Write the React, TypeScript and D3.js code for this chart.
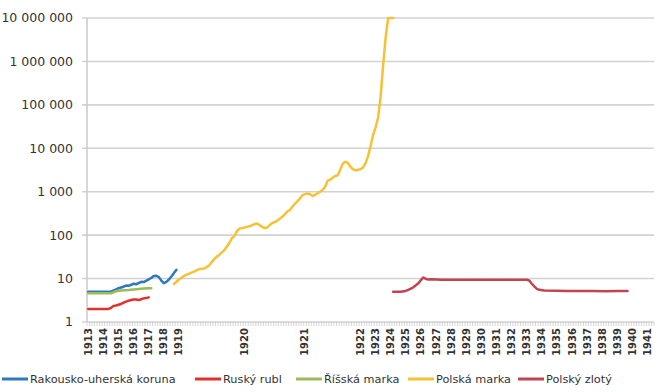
import React from "react";
import * as d3 from "d3";

// ---------- data ----------
const years = [
  "1913","1914","1915","1916","1917","1918","1919","1920","1921","1922","1923","1924","1925","1926","1927",
  "1928","1929","1930","1931","1932","1933","1934","1935","1936","1937","1938","1939","1940","1941",
];
// number of category slots belonging to each year on the category axis
const categoriesPerYear = [6,6,6,6,6,6,26,24,22,6,6,6,6,6,6,6,6,6,6,6,6,6,6,6,6,6,6,6,3];

const yTicks = [1, 10, 100, 1000, 10000, 100000, 1000000, 10000000];

// [category index, value]
const korunaData: [number, number][] = [
  [0,5],[9,5],[11,5.6],[12,6],[14,6.5],[15,6.9],[16,6.8],[18,7.6],[19,7.4],[21,8.4],[22,8.3],[24,9.6],
  [25,10.3],[26,11.5],[27,11.6],[28,10.8],[29,9],[30,7.8],[31,8.4],[32,9.5],[33,11.2],[34,13.5],[35,16],
];
const rublData: [number, number][] = [
  [0,2],[8,2],[9,2.1],[10,2.35],[11,2.4],[13,2.6],[14,2.8],[15,2.95],[16,3.1],[17,3.2],[18,3.3],[19,3.3],
  [20,3.2],[21,3.35],[22,3.5],[23,3.55],[24,3.7],
];
const markaData: [number, number][] = [
  [0,4.6],[9,4.6],[11,5.1],[13,5.3],[16,5.45],[18,5.6],[20,5.75],[22,5.9],[24,6.0],[25,6.0],
];
const polskaMarkaData: [number, number][] = [
  [34,7.5],[36,9.5],[38,11.5],[40,13],[42,14.5],[44,16.5],[46,17],[48,20],[49,24],[50,28],[51,32],[52,35],
  [53,40],[54,45],[55,55],[56,66],[57,85],[58,95],[59,125],[60,140],[61,145],[62,150],[63,155],[64,160],
  [65,170],[66,180],[67,185],[68,170],[69,155],[70,145],[71,150],[72,170],[73,190],[74,200],[75,215],
  [76,240],[77,265],[78,300],[79,350],[80,380],[81,450],[82,530],[83,600],[84,700],[85,830],[86,880],
  [87,910],[88,880],[89,800],[90,840],[91,920],[92,1000],[93,1100],[94,1300],[95,1800],[96,1900],
  [97,2100],[98,2300],[99,2400],[100,3200],[101,4400],[102,4900],[103,4600],[104,3800],[105,3300],
  [106,3100],[107,3200],[108,3300],[109,3600],[110,4500],[111,6500],[112,11000],[113,20000],[114,30000],
  [115,50000],[116,150000],[117,800000],[118,3500000],[119,10000000],[121,10000000],
];
const zlotyData: [number, number][] = [
  [121,5.0],[124,5.0],[126,5.2],[127,5.5],[128,5.9],[129,6.3],[130,7.0],[131,7.8],[132,9.2],[133,10.6],
  [134,9.8],[135,9.5],[136,9.6],[140,9.4],[150,9.4],[160,9.4],[170,9.4],[174,9.4],[175,9.0],[176,7.6],
  [177,6.6],[178,5.8],[179,5.5],[181,5.3],[190,5.2],[200,5.2],[205,5.1],[210,5.2],[214,5.2],
];

const seriesNames = ["Rakousko-uherská koruna", "Ruský rubl", "Říšská marka", "Polská marka", "Polský zlotý"];
const seriesColors = ["#2e78bd", "#e2312d", "#9bbb59", "#f5c236", "#bf4553"];
const seriesData = [korunaData, rublData, markaData, polskaMarkaData, zlotyData];

// ---------- layout ----------
const W = 663, H = 392;
const left = 87, right = 654, top = 18, bottom = 322;
const font = "'DejaVu Sans', sans-serif";
const textColor = "#333333";

export default function App() {
  // build categories from the per-year slot counts
  const categories: string[] = [];
  years.forEach((y, i) => {
    for (let k = 0; k < categoriesPerYear[i]; k++) categories.push(k === 0 ? y : "");
  });
  const idx = categories.map((_, i) => i);

  const x = d3.scaleBand<number>().domain(idx).range([left, right]).paddingInner(0).paddingOuter(0);
  const step = x.bandwidth();
  const cx = (i: number) => (x(Math.round(i)) as number) + step / 2;
  const y = d3.scaleLog().domain([1, 1e7]).range([bottom, top]);

  const fmt = d3.formatLocale({ decimal: ",", thousands: " ", grouping: [3], currency: ["", ""] }).format(",d");

  const line = d3
    .line<[number, number]>()
    .x((d) => cx(d[0]))
    .y((d) => y(d[1]))
    .curve(d3.curveLinear);

  const legendX = [2, 195, 296, 408, 518];
  const legendY = 379;

  return (
    <svg width={W} height={H} style={{ position: "absolute", left: 0, top: 0, background: "#fff" }}>
      <rect x={0} y={0} width={W} height={H} fill="#fff" />
      {/* gridlines */}
      {yTicks.map((t) => (
        <line key={"g" + t} x1={left - 5} x2={right} y1={y(t)} y2={y(t)} stroke="#d2d2d2" strokeWidth={1.6} />
      ))}
      {/* y axis line */}
      <line x1={left} x2={left} y1={top} y2={bottom} stroke="#cccccc" strokeWidth={1.6} />
      {/* x axis ticks */}
      {idx.map((i) => (
        <line key={"t" + i} x1={x(i) as number} x2={x(i) as number} y1={bottom} y2={bottom + 4} stroke="#cccccc" strokeWidth={0.8} />
      ))}
      <line x1={right} x2={right} y1={bottom} y2={bottom + 4} stroke="#cccccc" strokeWidth={0.8} />
      {/* y labels */}
      {yTicks.map((t) => (
        <text key={"l" + t} x={left - 14} y={y(t)} dy="0.35em" textAnchor="end" fontFamily={font} fontSize={12.5} fill={textColor}>
          {fmt(t)}
        </text>
      ))}
      {/* x labels */}
      {categories.map((c, i) =>
        c ? (
          <text
            key={"x" + i}
            transform={`translate(${cx(i) + 3.5},${bottom + 6}) rotate(-90)`}
            textAnchor="end"
            fontFamily={font}
            fontSize={10}
            fontWeight="bold"
            fill={textColor}
          >
            {c}
          </text>
        ) : null
      )}
      {/* series */}
      {seriesData.map((d, i) => (
        <path key={"s" + i} d={line(d) || ""} fill="none" stroke={seriesColors[i]} strokeWidth={2.5} strokeLinejoin="round" strokeLinecap="round" />
      ))}
      {/* legend */}
      {seriesNames.map((n, i) => (
        <g key={"lg" + i}>
          <line x1={legendX[i]} x2={legendX[i] + 26} y1={legendY} y2={legendY} stroke={seriesColors[i]} strokeWidth={3} />
          <text x={legendX[i] + 28} y={legendY} dy="0.35em" fontFamily={font} fontSize={11.3} fill={textColor}>
            {n}
          </text>
        </g>
      ))}
    </svg>
  );
}
